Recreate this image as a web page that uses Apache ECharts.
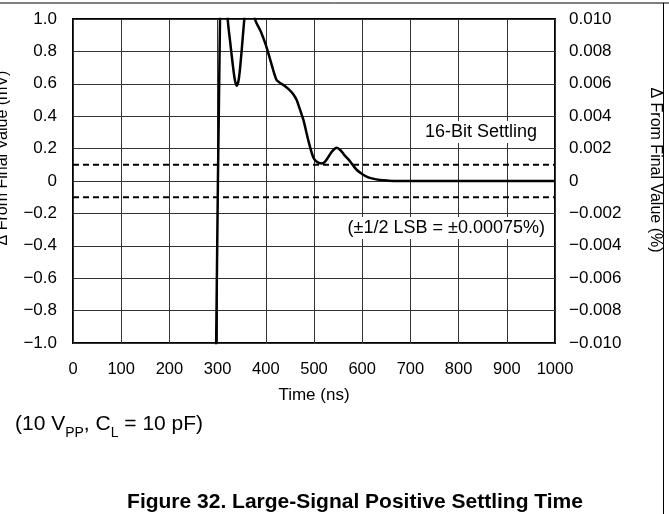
<!DOCTYPE html>
<html><head><meta charset="utf-8">
<script src="https://cdn.jsdelivr.net/npm/echarts@6/dist/echarts.min.js"></script>
<style>html,body{margin:0;padding:0;background:#fff}#c{width:669px;height:514px}</style>
</head><body><div id="c"></div>
<script>
// Data
var timeNs = [290,297,305,310,314,318,321,326,331,336,340,344,348,352,355.4,362,368,373,377.6,390,400,410,422,429,440,450,457,464,471,478,488,498,505,516,523,530,538,547,555,563,571,580,589,599,609,620,637,655,671,700,800,900,1000];
var deltaMv = [-2.75,-1.0,1.0,1.4,1.5,1.3,1.0,0.86,0.73,0.62,0.588,0.63,0.74,0.88,1.0,1.25,1.3,1.15,1.0,0.92,0.84,0.74,0.625,0.607,0.585,0.56,0.535,0.5,0.44,0.377,0.253,0.15,0.12,0.108,0.12,0.15,0.185,0.205,0.19,0.16,0.135,0.1,0.068,0.045,0.027,0.016,0.006,0.002,0.0,0,0,0,0];
var settleBandMv = [0.1, -0.1];
var bandT = [0, 1000];
var xTicks = [0,100,200,300,400,500,600,700,800,900,1000];
var leftTicks = [-1.0,-0.8,-0.6,-0.4,-0.2,0,0.2,0.4,0.6,0.8,1.0];
var rightTicks = [-0.010,-0.008,-0.006,-0.004,-0.002,0,0.002,0.004,0.006,0.008,0.010];

var FONT = '"Liberation Sans", Arial, Helvetica, sans-serif';
var chart = echarts.init(document.getElementById('c'), null, {renderer:'canvas'});

function fmt(v, d){
  var r = Math.round(v*Math.pow(10,d))/Math.pow(10,d);
  if (Math.abs(r) < 1e-12) return '0';
  var s = Math.abs(r).toFixed(d);
  return (r < 0 ? '\u2212' : '') + s;
}

var curve = timeNs.map(function(t,i){return [t, deltaMv[i]];});
var bandSeries = settleBandMv.map(function(v){
  return {type:'line', data: bandT.map(function(t){return [t, v];}), symbol:'none', silent:true,
    lineStyle:{color:'#000', width:2, type:[6,4]}, z:3};
});

chart.setOption({
  animation:false,
  backgroundColor:'#fff',
  grid:{left:73, right:114, top:19, bottom:171, show:true, borderColor:'#000', borderWidth:2, backgroundColor:'transparent'},
  xAxis:{type:'value', min:0, max:1000, interval:100,
    axisLine:{show:false}, axisTick:{show:false},
    splitLine:{show:true, lineStyle:{color:'#333', width:1}},
    axisLabel:{margin:18, color:'#000', fontFamily:FONT, fontSize:16.5, formatter:function(v){return String(v);}},
    name:'Time (ns)', nameLocation:'middle', nameGap:44,
    nameTextStyle:{color:'#000', fontFamily:FONT, fontSize:17}
  },
  yAxis:[
    {type:'value', min:-1, max:1, interval:0.2, position:'left',
      axisLine:{show:false}, axisTick:{show:false},
      splitLine:{show:true, lineStyle:{color:'#333', width:1}},
      axisLabel:{margin:16, color:'#000', fontFamily:FONT, fontSize:17, formatter:function(v){return fmt(v,1);}}
    },
    {type:'value', min:-0.01, max:0.01, interval:0.002, position:'right',
      axisLine:{show:false}, axisTick:{show:false}, splitLine:{show:false},
      axisLabel:{margin:14, color:'#000', fontFamily:FONT, fontSize:17, formatter:function(v){return fmt(v,3);}}
    }
  ],
  series:[
    bandSeries[0], bandSeries[1],
    {type:'line', data:curve, symbol:'none', smooth:0.3, clip:true,
      lineStyle:{color:'#000', width:2.5}, z:4}
  ],
  graphic:[
    {type:'line', shape:{x1:0,y1:3,x2:669,y2:3}, style:{stroke:'#000', lineWidth:1}},
    {type:'line', shape:{x1:663.5,y1:3,x2:663.5,y2:514}, style:{stroke:'#000', lineWidth:1}},
    {type:'text', x:3, y:158, rotation:Math.PI/2, style:{text:'\u0394 From Final Value (mV)', font:'16px '+FONT, fill:'#000', textAlign:'center', textVerticalAlign:'middle'}},
    {type:'text', x:655, y:170, rotation:-Math.PI/2, style:{text:'\u0394 From Final Value (%)', font:'16px '+FONT, fill:'#000', textAlign:'center', textVerticalAlign:'middle'}},
    {type:'text', x:540, y:132, z:10, style:{text:'16-Bit Settling', font:'18px '+FONT, fill:'#000', textAlign:'right', textVerticalAlign:'middle', backgroundColor:'#fff', padding:[2,3,2,3]}},
    {type:'text', x:548, y:228, z:10, style:{text:'(\u00b11/2 LSB = \u00b10.00075%)', font:'18px '+FONT, fill:'#000', textAlign:'right', textVerticalAlign:'middle', backgroundColor:'#fff', padding:[2,3,2,3]}},
    {type:'text', x:15, y:414, style:{
      text:'{b|(10 V}{s|PP}{b|, C}{s|L}{b| = 10 pF)}',
      rich:{
        b:{fontFamily:FONT, fontSize:21, color:'#000', verticalAlign:'bottom', padding:[0,0,5,0]},
        s:{fontFamily:FONT, fontSize:14, color:'#000', verticalAlign:'bottom'}
      }}},
    {type:'text', x:355, y:502, style:{text:'Figure 32. Large-Signal Positive Settling Time', font:'bold 21px '+FONT, fill:'#000', textAlign:'center', textVerticalAlign:'middle'}}
  ]
});
</script></body></html>
